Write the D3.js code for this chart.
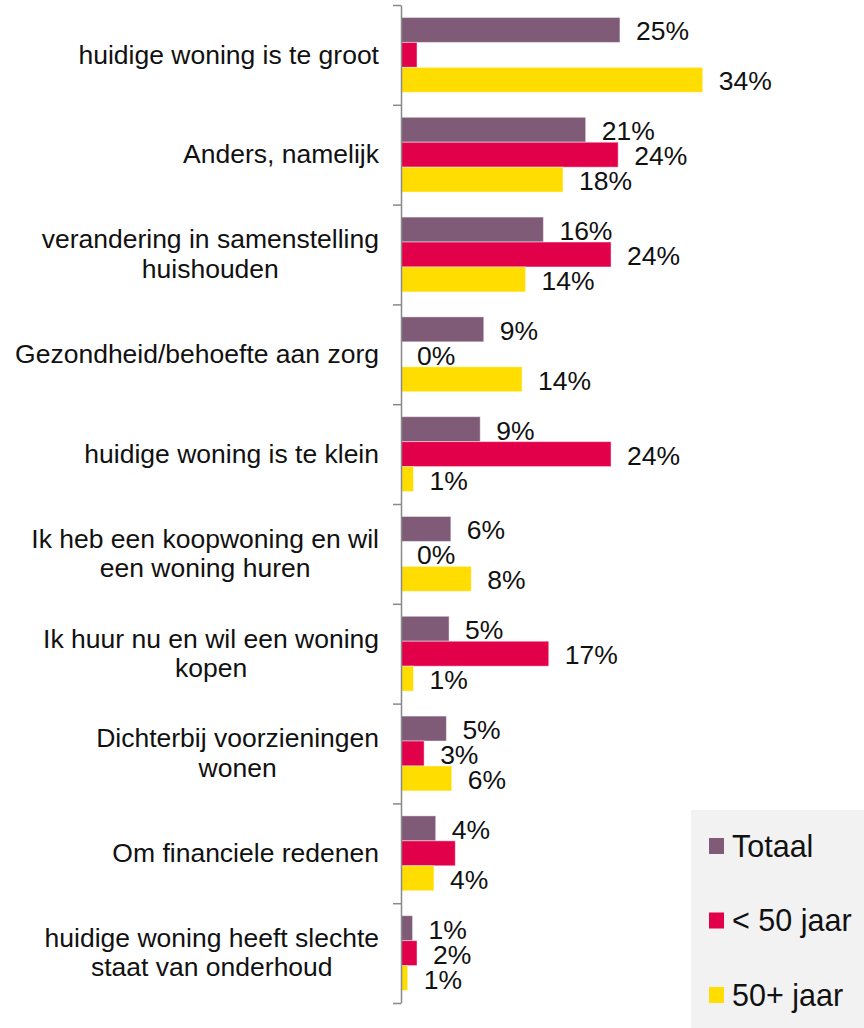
<!DOCTYPE html>
<html>
<head>
<meta charset="utf-8">
<script src="https://cdn.jsdelivr.net/npm/d3@7"></script>
<style>
    html, body { margin: 0; padding: 0; background: #fff; }
    svg { display: block; font-family: "Liberation Sans", Arial, sans-serif; }
</style>
</head>
<body>
<div id="chart"></div>
<script>
const categories = [
    ["huidige woning is te groot"],
    ["Anders, namelijk"],
    ["verandering in samenstelling", "huishouden"],
    ["Gezondheid/behoefte aan zorg"],
    ["huidige woning is te klein"],
    ["Ik heb een koopwoning en wil", "een woning huren"],
    ["Ik huur nu en wil een woning", "kopen"],
    ["Dichterbij voorzieningen", "wonen"],
    ["Om financiele redenen"],
    ["huidige woning heeft slechte", "staat van onderhoud"]
];
const seriesNames = ["Totaal", "< 50 jaar", "50+ jaar"];
const totaal = [24.6, 20.75, 16.0, 9.3, 8.9, 5.6, 5.4, 5.1, 3.9, 1.3];
const onder50 = [1.8, 24.4, 23.6, 0, 23.6, 0, 16.6, 2.6, 6.1, 1.8];
const boven50 = [33.9, 18.2, 14.0, 13.6, 1.4, 7.9, 1.4, 5.7, 3.7, 0.75];
// labels that the original chart leaves out: [category index, series index]
const hiddenLabels = [[0, 1], [8, 1]];

const colors = ["#7f5b78", "#e3004a", "#ffdd00"];
const width = 864;
const height = 1028;
const axisX = 401;
const plotTop = 5;
const plotBottom = 1003;

const svg = d3
    .select("#chart")
    .append("svg")
    .attr("width", width)
    .attr("height", height);

const values = [totaal, onder50, boven50];
const rows = categories.map((c, i) => ({
    index: i,
    lines: c,
    bars: seriesNames.map((s, j) => ({ cat: i, series: j, value: values[j][i] }))
}));

const y = d3
    .scaleBand()
    .domain(d3.range(categories.length))
    .range([plotTop, plotBottom]);

const yInner = d3
    .scaleBand()
    .domain(d3.range(seriesNames.length))
    .range([0, y.bandwidth()])
    .paddingOuter(0.5);

const x = d3
    .scaleLinear()
    .domain([0, 40])
    .range([axisX, axisX + 356]);

const groups = svg
    .selectAll("g.group")
    .data(rows)
    .enter()
    .append("g")
    .attr("class", "group")
    .attr("transform", d => `translate(0, ${y(d.index)})`);

groups
    .selectAll("rect")
    .data(d => d.bars)
    .enter()
    .append("rect")
    .attr("x", x(0))
    .attr("y", d => yInner(d.series))
    .attr("width", d => x(d.value) - x(0))
    .attr("height", yInner.bandwidth())
    .attr("fill", d => colors[d.series])
    .attr("stroke", d => (d.value > 0 ? "rgba(255,255,255,0.45)" : "none"))
    .attr("stroke-width", 1);

const isHidden = d => hiddenLabels.some(h => h[0] === d.cat && h[1] === d.series);

groups
    .selectAll("text.value")
    .data(d => d.bars.filter(b => !isHidden(b)))
    .enter()
    .append("text")
    .attr("class", "value")
    .attr("x", d => x(d.value) + 16)
    .attr("y", d => yInner(d.series) + yInner.bandwidth() / 2 + 10.5)
    .attr("font-size", 26.5)
    .attr("fill", "#111")
    .text(d => Math.round(d.value) + "%");

// category labels, multi-line ones centred inside a right-aligned block
const labelRight = 379;
const lineHeight = 29.4;
const catSize = 26.5;

groups.each(function(d) {
    const g = d3.select(this);
    const mid = y.bandwidth() / 2;
    const firstBase = mid + 8.6 - ((d.lines.length - 1) * lineHeight) / 2;
    const texts = g
        .selectAll("text.cat")
        .data(d.lines)
        .enter()
        .append("text")
        .attr("class", "cat")
        .attr("font-size", catSize)
        .attr("fill", "#111")
        .attr("y", (l, i) => firstBase + i * lineHeight)
        .text(l => l);
    const widths = texts.nodes().map(n => n.getComputedTextLength());
    const maxW = d3.max(widths);
    texts
        .attr("text-anchor", "middle")
        .attr("x", labelRight - maxW / 2);
});

// axis with ticks between the categories
const tickScale = d3
    .scaleLinear()
    .domain([0, categories.length])
    .range([plotTop, plotBottom]);

const yAxis = d3
    .axisLeft(tickScale)
    .tickValues(d3.range(categories.length + 1))
    .tickSize(8)
    .tickSizeOuter(0)
    .tickFormat("");

const axisG = svg
    .append("g")
    .attr("transform", `translate(${axisX}, 0)`)
    .call(yAxis);

axisG.selectAll("path, line").attr("stroke", "#898989").attr("stroke-width", 1.5);

// legend
const legend = svg.append("g").attr("transform", "translate(691, 810)");

legend
    .append("rect")
    .attr("width", 180)
    .attr("height", 218)
    .attr("fill", "#f2f2f2");

const legendY = d3
    .scalePoint()
    .domain(d3.range(seriesNames.length))
    .range([36, 185]);

const items = legend
    .selectAll("g.item")
    .data(seriesNames)
    .enter()
    .append("g")
    .attr("class", "item")
    .attr("transform", (d, i) => `translate(0, ${legendY(i)})`);

items
    .append("rect")
    .attr("x", 18)
    .attr("y", -8)
    .attr("width", 15)
    .attr("height", 16)
    .attr("fill", (d, i) => colors[i]);

items
    .append("text")
    .attr("x", 41)
    .attr("y", 10.5)
    .attr("font-size", 30.5)
    .attr("fill", "#111")
    .text(d => d);
</script>
</body>
</html>
